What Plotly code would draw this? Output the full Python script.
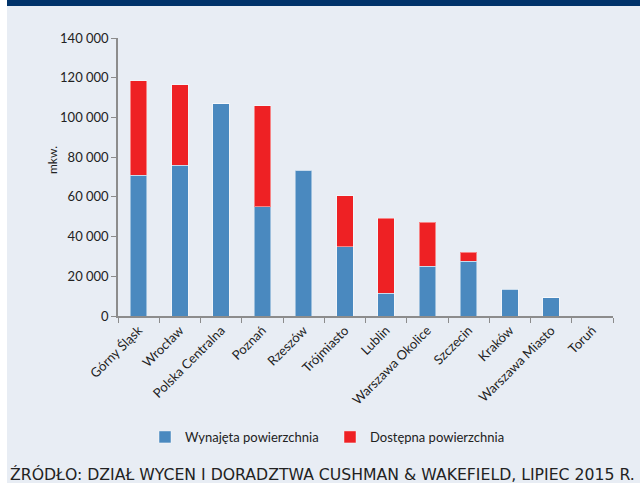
import plotly.graph_objects as go

# dane (m kw.)
regions = ["Górny Śląsk", "Wrocław", "Polska Centralna", "Poznań", "Rzeszów",
           "Trójmiasto", "Lublin", "Warszawa Okolice", "Szczecin", "Kraków",
           "Warszawa Miasto", "Toruń"]
leased = [71000, 76000, 106800, 55000, 73400, 35000, 11500, 25000, 27500, 13500, 9200, 0]
available = [47500, 40500, 0, 51000, 0, 25500, 37700, 22200, 4700, 0, 0, 0]

y_ticks = [0, 20000, 40000, 60000, 80000, 100000, 120000, 140000]

BLUE = "#4a89bf"
RED = "#ee2124"
BG = "#e8edf4"
NAVY = "#00336a"

fig = go.Figure()
fig.add_trace(go.Bar(
    name="Wynajęta powierzchnia", x=regions, y=leased,
    marker=dict(color=BLUE, line=dict(color="rgba(255,255,255,0.45)", width=1)),
    width=0.4,
))
fig.add_trace(go.Bar(
    name="Dostępna powierzchnia", x=regions, y=available,
    marker=dict(color=RED, line=dict(color="rgba(255,255,255,0.45)", width=1)),
    width=0.4,
))

px_w = 495.0  # szerokość obszaru wykresu w px
px_h = 278.0  # wysokość obszaru wykresu w px

fig.update_layout(
    barmode="stack",
    width=640, height=483,
    margin=dict(l=118, r=27, t=38, b=167),
    paper_bgcolor=BG, plot_bgcolor=BG,
    separators=", ",
    font=dict(family="Lato, sans-serif", size=13, color="#222"),
    showlegend=True,
    legend=dict(orientation="h", x=(145 - 118) / px_w, xanchor="left",
                y=-121 / px_h, yanchor="middle",
                font=dict(size=13, color="#222"), bgcolor="rgba(0,0,0,0)",
                traceorder="normal", itemwidth=30, entrywidth=140),
)

fig.update_yaxes(
    range=[0, 140000], tickvals=y_ticks, tickformat=",d",
    showgrid=False, zeroline=False,
    showline=True, linecolor="#8c8c8c", linewidth=1.5,
    ticks="outside", ticklen=5, tickcolor="#8c8c8c",
    tickfont=dict(size=13),
)
fig.update_xaxes(
    tickangle=-45, showgrid=False,
    showline=True, linecolor="#8c8c8c", linewidth=1.5,
    ticks="outside", ticklen=5, tickcolor="#8c8c8c",
    tickson="boundaries",
    tickfont=dict(size=13),
)

fig.add_annotation(
    text="mkw.", xref="paper", yref="paper",
    x=(52 - 118) / px_w, y=(316 - 160) / px_h, textangle=-90,
    xanchor="center", yanchor="middle",
    showarrow=False, font=dict(size=12, color="#222"),
)

# ramka: granatowy pasek u góry i biały margines z lewej
fig.add_shape(type="rect", xref="paper", yref="paper",
              x0=-118 / px_w, x1=527 / px_w, y0=1 + 32 / px_h, y1=1 + 40 / px_h,
              fillcolor=NAVY, line_width=0, layer="above")
fig.add_shape(type="rect", xref="paper", yref="paper",
              x0=-125 / px_w, x1=-111 / px_w, y0=-170 / px_h, y1=1 + 40 / px_h,
              fillcolor="white", line_width=0, layer="above")

fig.add_annotation(
    text="ŹRÓDŁO: DZIAŁ WYCEN I DORADZTWA CUSHMAN & WAKEFIELD, LIPIEC 2015 R.",
    xref="paper", yref="paper", x=-110 / px_w, y=-158 / px_h,
    xanchor="left", yanchor="middle", showarrow=False,
    font=dict(family="DejaVu Sans, sans-serif", size=15.7, color="#222"),
)

fig.write_html(
    "out.html",
    config={"displayModeBar": False},
    post_script="document.body.style.margin='0';document.body.style.overflow='hidden';",
)
